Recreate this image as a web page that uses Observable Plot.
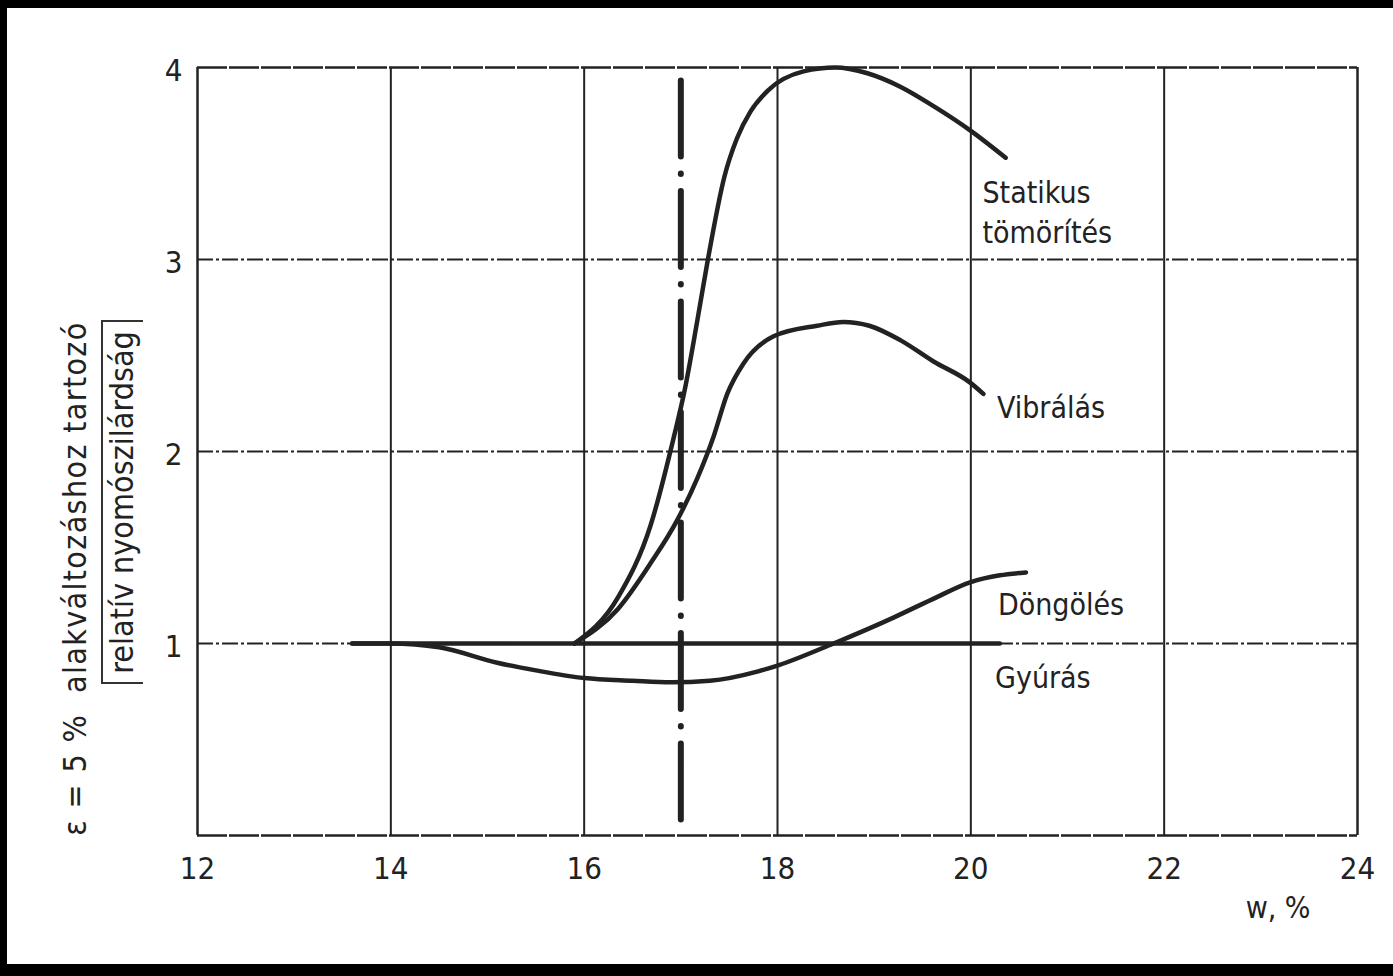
<!DOCTYPE html>
<html>
<head>
<meta charset="utf-8">
<script src="https://cdn.jsdelivr.net/npm/d3@7"></script>
<script src="https://cdn.jsdelivr.net/npm/@observablehq/plot@0.6"></script>
<style>
  html, body { margin: 0; padding: 0; background: #fff; }
  #wrap { position: relative; width: 1393px; height: 976px; overflow: hidden; background: #fff; }
  #wrap svg { position: absolute; left: 0; top: 0; }
  .edge { position: absolute; background: #000; }
  #bracket { position: absolute; left: 101px; top: 320px; width: 40px; height: 360px;
             border-left: 2.5px solid #333; border-top: 2.5px solid #333; border-bottom: 2.5px solid #333; }
</style>
</head>
<body>
<div id="wrap"></div>
<script>
// ---- data ----
const xTicks = [12, 14, 16, 18, 20, 22, 24];
const yTicks = [1, 2, 3, 4];
const xGrid = [14, 16, 18, 20, 22];
const yGrid = [1, 2, 3];
const xDomain = [12, 24];
const yDomain = [0, 4];

const seriesNames = ["Statikus tömörítés", "Vibrálás", "Döngölés", "Gyúrás"];

const statW = [15.9, 16.35, 16.69, 16.93, 17.04, 17.17, 17.28, 17.45, 17.58, 17.72, 17.9, 18.27, 18.6, 18.93, 19.27, 19.61, 20.0, 20.36];
const statV = [1.0, 1.24, 1.62, 2.08, 2.32, 2.68, 3.0, 3.43, 3.63, 3.77, 3.88, 3.98, 4.0, 3.97, 3.9, 3.80, 3.67, 3.53];

const vibW = [15.9, 16.35, 16.69, 16.96, 17.17, 17.34, 17.48, 17.65, 17.96, 18.41, 18.68, 18.95, 19.27, 19.61, 19.99, 20.13];
const vibV = [1.0, 1.18, 1.42, 1.64, 1.86, 2.08, 2.30, 2.46, 2.60, 2.655, 2.675, 2.655, 2.58, 2.47, 2.36, 2.30];

const dongW = [13.6, 14.0, 14.5, 15.1, 15.5, 16.0, 16.5, 16.9, 17.3, 17.8, 18.0, 18.58, 19.2, 19.6, 20.0, 20.3, 20.57];
const dongV = [1.0, 1.0, 0.98, 0.9, 0.86, 0.82, 0.806, 0.798, 0.806, 0.855, 0.885, 1.0, 1.135, 1.23, 1.32, 1.355, 1.37];

const gyurW = [13.6, 20.3];
const gyurV = [1.0, 1.0];

// reference (dash-dot) line at w = 17 %
const refW = [17];
const refTop = [3.93];

// curve labels: text and position (data units)
const labelText = ["Statikus\ntömörítés", "Vibrálás", "Döngölés", "Gyúrás"];
const labelW = [20.12, 20.27, 20.28, 20.25];
const labelV = [3.255, 2.24, 1.213, 0.833];

const xLabel = "w, %";
const yLabel1 = "ε = 5 %\u00a0\u00a0alakváltozáshoz tartozó";
const yLabel2 = "relatív nyomószilárdság";

// ---- tables built from the arrays ----
const allW = [statW, vibW, dongW, gyurW];
const allV = [statV, vibV, dongV, gyurV];
const rows = [];
seriesNames.forEach((s, k) => allW[k].forEach((w, i) => rows.push({series: s, w, v: allV[k][i]})));
const labels = labelText.map((t, i) => ({t, w: labelW[i], v: labelV[i]}));
const refRows = refW.map((w, i) => ({w, top: refTop[i]}));

const INK = "#222";
const txtFont = "'DejaVu Sans Condensed', 'DejaVu Sans', sans-serif";
const numFont = "'DejaVu Sans Condensed', 'DejaVu Sans', sans-serif";

const chart = Plot.plot({
  width: 1393,
  height: 976,
  marginLeft: 197,
  marginRight: 36,
  marginTop: 67,
  marginBottom: 141,
  x: {domain: xDomain},
  y: {domain: yDomain},
  style: {fontFamily: txtFont, fontSize: "30px", color: INK, background: "white"},
  marks: [
    Plot.ruleX(xGrid, {stroke: INK, strokeWidth: 2}),
    Plot.ruleY(yGrid, {stroke: INK, strokeWidth: 2, strokeDasharray: "16,3,3,3"}),
    Plot.ruleX(xDomain, {stroke: INK, strokeWidth: 2.5}),
    Plot.ruleY(yDomain, {stroke: INK, strokeWidth: 2.5, strokeDasharray: "30,2"}),
    Plot.ruleX(refRows, {x: "w", y1: "top", y2: 0, stroke: INK, strokeWidth: 6,
      strokeDasharray: "76,17,0.5,17", strokeLinecap: "round"}),
    Plot.line(rows, {x: "w", y: "v", z: "series", curve: "monotone-x",
      stroke: INK, strokeWidth: 4.5, strokeLinecap: "round"}),
    Plot.axisX(xTicks, {tickSize: 0, tickPadding: 21, label: null, tickFormat: d => String(d),
      fontFamily: numFont, fontSize: 31, fill: INK}),
    Plot.axisY(yTicks, {tickSize: 0, tickPadding: 15, label: null, tickFormat: d => String(d),
      fontFamily: numFont, fontSize: 31, fill: INK, dy: 4}),
    Plot.text(labels, {x: "w", y: "v", text: "t", textAnchor: "start", lineAnchor: "middle",
      lineHeight: 1.33, fontSize: 30, fill: INK}),
    Plot.text([xLabel], {frameAnchor: "bottom-right", dx: -47, dy: 73, textAnchor: "end",
      lineAnchor: "middle", fontSize: 30, fill: INK}),
    Plot.text([yLabel1], {frameAnchor: "left", rotate: -90, dx: -122, dy: 127,
      textAnchor: "middle", lineAnchor: "middle", fontSize: 32, fill: INK}),
    Plot.text([yLabel2], {frameAnchor: "left", rotate: -90, dx: -75, dy: 51,
      textAnchor: "middle", lineAnchor: "middle", fontSize: 32, fill: INK})
  ]
});

d3.select(chart).selectAll("text")
  .filter(function () { return this.textContent === yLabel1; })
  .style("letter-spacing", "1.3px");

const wrap = document.getElementById("wrap");
wrap.appendChild(chart);
const bracket = document.createElement("div");
bracket.id = "bracket";
wrap.appendChild(bracket);
[["0px", "0px", "1393px", "8px"], ["0px", "0px", "7px", "976px"], ["0px", "964px", "1393px", "12px"]]
  .forEach(([l, t, w, h]) => {
    const d = document.createElement("div");
    d.className = "edge";
    Object.assign(d.style, {left: l, top: t, width: w, height: h});
    wrap.appendChild(d);
  });
</script>
</body>
</html>
